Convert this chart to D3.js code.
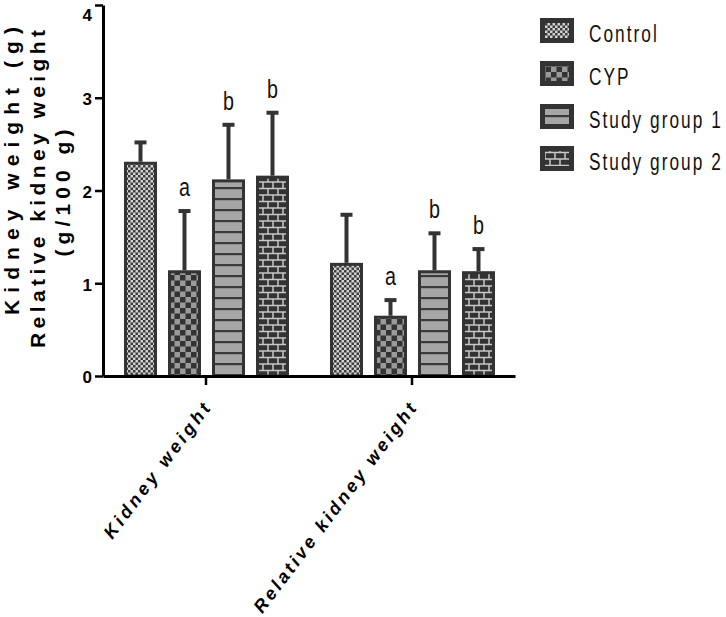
<!DOCTYPE html>
<html>
<head>
<meta charset="utf-8">
<script src="https://cdn.jsdelivr.net/npm/d3@7"></script>
<style>
  body { margin: 0; background: #fff; }
  svg { display: block; font-family: "Liberation Sans", Arial, sans-serif; }
</style>
</head>
<body>
<svg id="chart" width="726" height="617"></svg>
<script>
// データ
const groups = ["Kidney weight", "Relative kidney weight"];
const series = ["Control", "CYP", "Study group 1", "Study group 2"];
const kidneyMean = [2.31, 1.14, 2.12, 2.16];
const kidneySD   = [0.23, 0.66, 0.61, 0.70];
const relMean    = [1.22, 0.65, 1.14, 1.13];
const relSD      = [0.54, 0.19, 0.42, 0.26];
const kidneySig  = ["", "a", "b", "b"];
const relSig     = ["", "a", "b", "b"];
const yTicks     = [0, 1, 2, 3, 4];

// 描画用の行データ
const rows = [
  {group: groups[0], mean: kidneyMean, sd: kidneySD, sig: kidneySig},
  {group: groups[1], mean: relMean, sd: relSD, sig: relSig}
];

const svg = d3.select("#chart");
const dark = "#333";

// パターン
const defs = svg.append("defs");
function pat(id, w, h){
  return defs.append("pattern").attr("id", id)
    .attr("patternUnits", "userSpaceOnUse").attr("width", w).attr("height", h);
}
let p = pat("pControl", 5, 5);
p.append("rect").attr("width", 5).attr("height", 5).attr("fill", "#d2d2d2");
p.append("rect").attr("width", 2.5).attr("height", 2.5).attr("fill", "#3c3c3c");
p.append("rect").attr("x", 2.5).attr("y", 2.5).attr("width", 2.5).attr("height", 2.5).attr("fill", "#3c3c3c");

p = pat("pCYP", 11, 11);
p.append("rect").attr("width", 11).attr("height", 11).attr("fill", "#9a9a9a");
p.append("rect").attr("width", 5.5).attr("height", 5.5).attr("fill", dark);
p.append("rect").attr("x", 5.5).attr("y", 5.5).attr("width", 5.5).attr("height", 5.5).attr("fill", dark);

p = pat("pSG1", 10, 11);
p.append("rect").attr("width", 10).attr("height", 11).attr("fill", "#a6a6a6");
p.append("rect").attr("width", 10).attr("height", 2.2).attr("fill", "#3a3a3a");

p = pat("pSG2", 20, 13);
p.append("rect").attr("width", 20).attr("height", 13).attr("fill", "#c8c8c8");
[[0.75, 0.75], [10.75, 0.75], [-4.25, 7.25], [5.75, 7.25], [15.75, 7.25]].forEach(b => {
  p.append("rect").attr("x", b[0]).attr("y", b[1]).attr("width", 8.5).attr("height", 5).attr("fill", dark);
});
const fills = ["url(#pControl)", "url(#pCYP)", "url(#pSG1)", "url(#pSG2)"];

// スケール
const y = d3.scaleLinear().domain([0, 4]).range([376, 5]);
const x0 = d3.scaleBand().domain(groups).range([103, 515]);
const x1 = d3.scaleBand().domain(series).range([21, 186]).paddingInner(0.25);

// 棒とエラーバー
rows.forEach(r => {
  const g = svg.append("g").attr("transform", `translate(${x0(r.group)},0)`);
  series.forEach((s, i) => {
    const bx = x1(s), bw = x1.bandwidth(), cx = bx + bw / 2;
    const top = y(r.mean[i]), etop = y(r.mean[i] + r.sd[i]);
    // エラーバー
    g.append("line").attr("x1", cx).attr("x2", cx).attr("y1", top).attr("y2", etop + 2)
      .attr("stroke", dark).attr("stroke-width", 4);
    g.append("line").attr("x1", cx - 6).attr("x2", cx + 6).attr("y1", etop + 2).attr("y2", etop + 2)
      .attr("stroke", dark).attr("stroke-width", 4);
    g.append("rect").attr("x", bx + 1.5).attr("y", top + 1.5)
      .attr("width", bw - 3).attr("height", y(0) - top - 1.5)
      .attr("fill", fills[i]).attr("stroke", dark).attr("stroke-width", 3);
    if (r.sig[i]) {
      g.append("text").attr("transform", `translate(${cx},${etop - 13}) scale(0.76,1)`)
        .attr("text-anchor", "middle").attr("font-size", 26).attr("fill", "#111")
        .text(r.sig[i]);
    }
  });
});

// Y軸
const yAxis = svg.append("g").attr("transform", "translate(103,0)")
  .call(d3.axisLeft(y).tickValues(yTicks).tickFormat(d3.format("d")).tickSize(8).tickSizeOuter(0));
yAxis.select(".domain").attr("stroke", "#000").attr("stroke-width", 3);
yAxis.selectAll(".tick line").attr("stroke", "#000").attr("stroke-width", 2.5);
yAxis.selectAll(".tick text").attr("font-size", 17).attr("font-weight", "bold")
  .attr("font-family", "Liberation Sans, Arial, sans-serif").attr("fill", "#000")
  .attr("dy", d => d === 4 ? "0.9em" : "0.4em");

// X軸
const xAxis = svg.append("g").attr("transform", "translate(0,376)")
  .call(d3.axisBottom(x0).tickSize(9).tickSizeOuter(0).tickFormat(""));
xAxis.select(".domain").attr("stroke", "#000").attr("stroke-width", 3);
xAxis.selectAll(".tick line").attr("stroke", "#000").attr("stroke-width", 2.5);

// X軸ラベル（斜め）
const xLabelLen = [164, 257];
groups.forEach((gname, i) => {
  const tx = x0(gname) + x0.bandwidth() / 2;
  svg.append("text")
    .attr("transform", `translate(${tx + 5},409) rotate(-53)`)
    .attr("text-anchor", "end").attr("font-size", 18)
    .attr("font-weight", "bold").attr("font-style", "italic").attr("fill", "#000")
    .attr("textLength", xLabelLen[i]).attr("lengthAdjust", "spacing")
    .text(gname);
});

// Y軸タイトル
const yTitle = [
  {t: "Kidney weight (g)", x: 19, cy: 171, len: 288},
  {t: "Relative kidney weight", x: 45, cy: 189, len: 318},
  {t: "(g/100 g)", x: 70, cy: 193, len: 127}
];
yTitle.forEach(d => {
  svg.append("text")
    .attr("transform", `translate(${d.x},${d.cy}) rotate(-90)`)
    .attr("text-anchor", "middle").attr("font-size", 21).attr("font-weight", "bold").attr("fill", "#000")
    .attr("textLength", d.len).attr("lengthAdjust", "spacing")
    .text(d.t);
});

// 凡例
const legendTop = [18, 61, 104, 146];
series.forEach((s, i) => {
  const lg = svg.append("g").attr("transform", `translate(540,${legendTop[i]})`);
  lg.append("rect").attr("width", 34).attr("height", 25).attr("fill", dark);
  lg.append("rect").attr("x", 5).attr("y", 5).attr("width", 24).attr("height", 15).attr("fill", fills[i]);
  lg.append("text").attr("transform", "translate(49,24) scale(0.72,1)")
    .attr("font-size", 24).attr("letter-spacing", 2.8).attr("fill", "#111")
    .text(s);
});
</script>
</body>
</html>
